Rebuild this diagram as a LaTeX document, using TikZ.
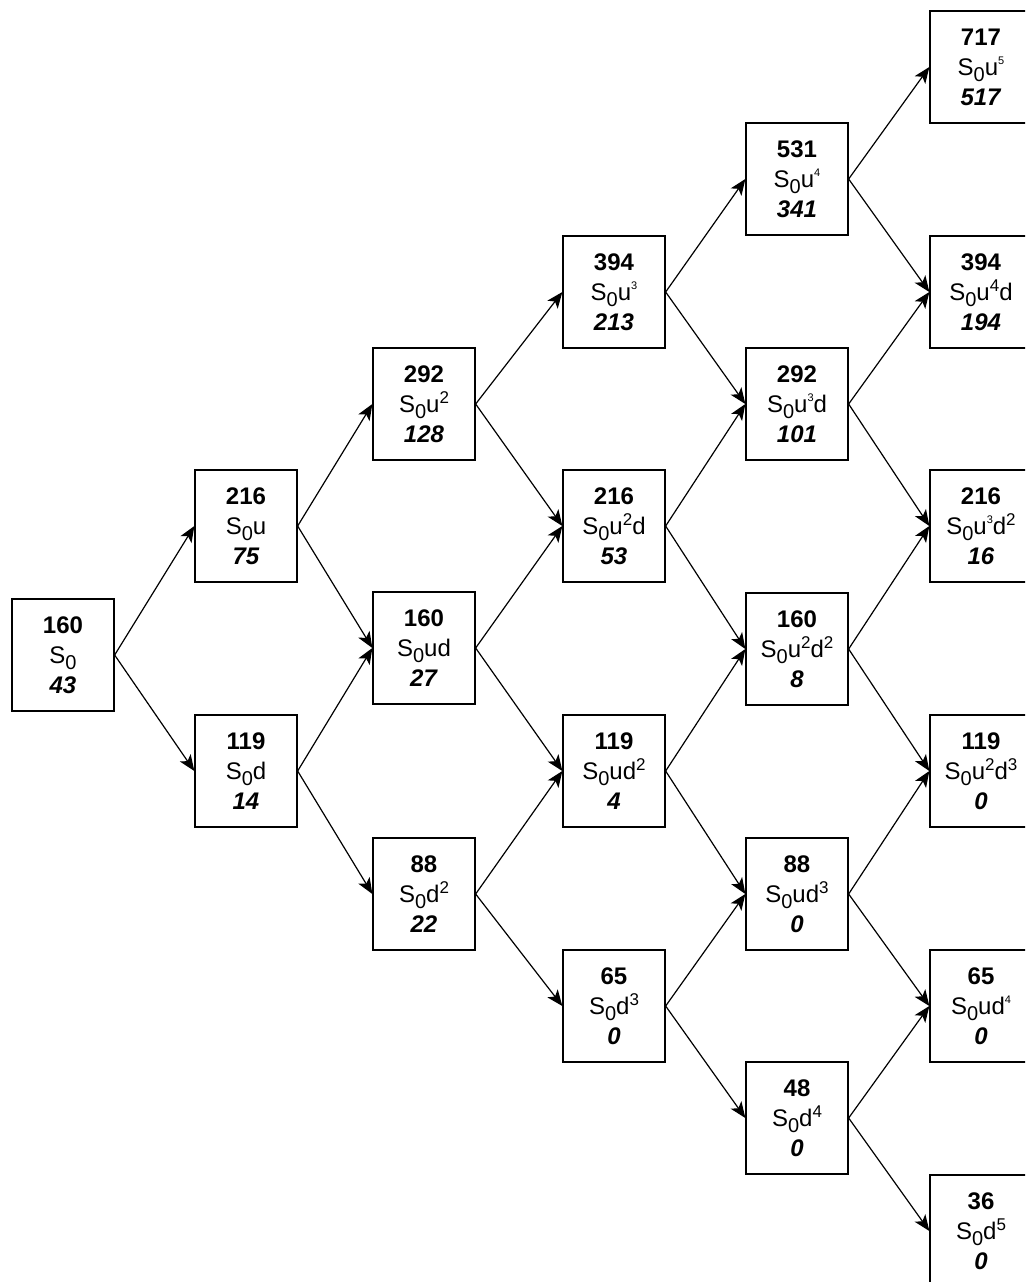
\documentclass[tikz,border=0pt]{standalone}
\usepackage{fontspec}
\setmainfont{Liberation Sans}
\usepackage{tikz}
\usetikzlibrary{arrows.meta}

% sub- and superscripts of the node labels
\newcommand\lo[1]{\raisebox{-3.2pt}{\fontsize{10}{10}\selectfont#1}}
\newcommand\hi[1]{\raisebox{4.2pt}{\fontsize{8.5}{8.5}\selectfont#1}}
\newcommand\hit[1]{\raisebox{5.5pt}{\fontsize{5.5}{5.5}\selectfont#1}}

\begin{document}
\begin{tikzpicture}[x=0.5pt, y=-0.5pt,
    box/.style={draw, line width=0.65pt, minimum width=51pt, minimum height=56pt,
      inner sep=0pt, align=center, font=\fontsize{12}{15}\selectfont},
    link/.style={-{Stealth[length=8pt,width=6.5pt,inset=2pt]}, line width=0.6pt}]
  \useasboundingbox (0,0) rectangle (1025,1282);
  \clip (0,0) rectangle (1025,1282);
  %% tree nodes: column/downs/x/y/price/label/value
  \foreach \c/\k/\x/\y/\p/\s/\v in {
      0/0/63/655/160/{}/43,
      1/0/246/526/216/{u}/75,
      1/1/246/771/119/{d}/14,
      2/0/424/404/292/{u\hi{2}}/128,
      2/1/424/648/160/{ud}/27,
      2/2/424/894/88/{d\hi{2}}/22,
      3/0/614/292/394/{u\hit{3}}/213,
      3/1/614/526/216/{u\hi{2}d}/53,
      3/2/614/771/119/{ud\hi{2}}/4,
      3/3/614/1006/65/{d\hi{3}}/0,
      4/0/797/179/531/{u\hit{4}}/341,
      4/1/797/404/292/{u\hit{3}d}/101,
      4/2/797/649/160/{u\hi{2}d\hi{2}}/8,
      4/3/797/894/88/{ud\hi{3}}/0,
      4/4/797/1118/48/{d\hi{4}}/0,
      5/0/981/67/717/{u\hit{5}}/517,
      5/1/981/292/394/{u\hi{4}d}/194,
      5/2/981/526/216/{u\hit{3}d\hi{2}}/16,
      5/3/981/771/119/{u\hi{2}d\hi{3}}/0,
      5/4/981/1006/65/{ud\hit{4}}/0,
      5/5/981/1231/36/{d\hi{5}}/0}
    \node[box] (n\c\k) at (\x,\y)
      {\textbf{\p}\\[0pt]S\lo{0}\s\\[0pt]\textbf{\textit{\v}}};
  %% up and down moves
  \foreach \c in {0,...,4} {
    \pgfmathtruncatemacro\cn{\c+1}
    \foreach \k [evaluate=\k as \kn using int(\k+1)] in {0,...,\c} {
      \draw[link] (n\c\k.east) -- (n\cn\k.west);
      \draw[link] (n\c\k.east) -- (n\cn\kn.west);
    }
  }
\end{tikzpicture}
\end{document}
